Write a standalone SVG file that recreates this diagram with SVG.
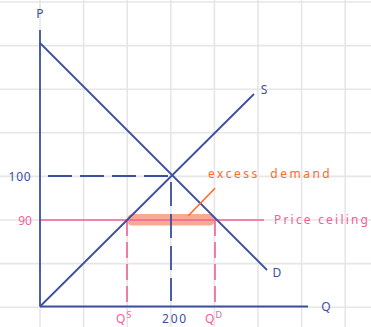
<svg xmlns="http://www.w3.org/2000/svg" width="371" height="327" viewBox="0 0 371 327">
<style>
.grid{stroke:#e6e6e6;stroke-width:1.6;fill:none}
.blue{stroke:#3d4f9e;stroke-width:1.8;fill:none}
.pink{stroke:#f2609a;stroke-width:1.6;fill:none}
.dash{stroke-dasharray:24 8}
.pdash{stroke-dasharray:16 6}
.tb{fill:#3d4f9e;font-family:"Noto Sans","DejaVu Sans",sans-serif;font-size:12px}
.tp{fill:#f2609a;font-family:"Noto Sans","DejaVu Sans",sans-serif;font-size:12px}
.to{fill:#ff6a2a;font-family:"Noto Sans","DejaVu Sans",sans-serif;font-size:12px}
</style>
<rect width="371" height="327" fill="#ffffff"/>
<g id="grid">
<path class="grid" d="M40 0V327M83.6 0V327M127.2 0V327M170.8 0V327M214.4 0V327M258 0V327M301.6 0V327M345.2 0V327M0 2H371M0 45.6H371M0 89.2H371M0 132.8H371M0 176.4H371M0 220H371M0 263.6H371M0 307.2H371"/>
</g>
<g id="connectors">
<rect x="127" y="214" width="88" height="11.5" rx="5.5" fill="#f6a085" opacity="0.9"/>
<line class="pink" x1="40" y1="220" x2="264" y2="220"/>
<line class="pink pdash" x1="127" y1="220" x2="127" y2="306"/>
<line class="pink pdash" x1="215" y1="220" x2="215" y2="306"/>
<line class="blue dash" x1="48" y1="176" x2="171" y2="176"/>
<line class="blue dash" x1="171" y1="182" x2="171" y2="301"/>
<line class="blue" x1="40" y1="30" x2="40" y2="306.5"/>
<line class="blue" x1="40" y1="306.5" x2="308" y2="306.5"/>
<line class="blue" x1="40" y1="43" x2="267" y2="270"/>
<line class="blue" x1="40" y1="306.5" x2="254" y2="94"/>
<line x1="188.3" y1="215.7" x2="215" y2="188.3" stroke="#ff6a2a" stroke-width="1.6"/>
</g>
<g id="labels">
<text class="tb" x="40" y="18" text-anchor="middle" font-size="13">P</text>
<text class="tb" x="326" y="310.5" text-anchor="middle" font-size="14">Q</text>
<text class="tb" x="264" y="94" text-anchor="middle" font-size="14">S</text>
<text class="tb" x="277" y="277" text-anchor="middle" font-size="14">D</text>
<text class="tb" x="20" y="180.5" text-anchor="middle" font-size="13" letter-spacing="0.8">100</text>
<text class="tp" x="25" y="224.5" text-anchor="middle" font-size="13">90</text>
<text class="tb" x="175" y="323" text-anchor="middle" font-size="13" letter-spacing="1.8">200</text>
<text class="tp" x="116" y="323" font-size="14">Q<tspan font-size="9" dx="1" dy="-5">S</tspan></text>
<text class="tp" x="205" y="323" font-size="14">Q<tspan font-size="9" dx="1" dy="-5">D</tspan></text>
<text class="tp" x="274" y="224" font-size="14" letter-spacing="2.2">Price ceiling</text>
<text class="to" x="208" y="177.5" font-size="14" letter-spacing="2.5" word-spacing="5">excess demand</text>
</g>
</svg>
